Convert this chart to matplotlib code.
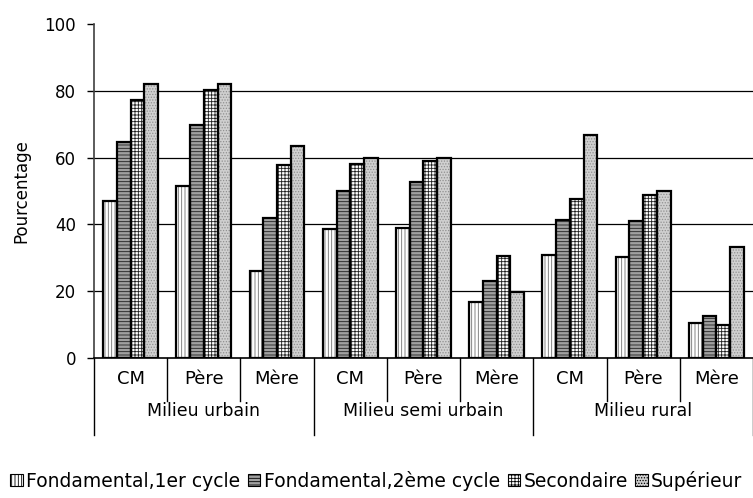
import numpy as np
import matplotlib.pyplot as plt

plt.rcParams['font.family'] = ['DejaVu Sans']
plt.rcParams['hatch.linewidth'] = 0.6

milieux = ['Milieu urbain', 'Milieu semi urbain', 'Milieu rural']
personnes = ['CM', 'Père', 'Mère']
niveaux = ['Fondamental,1er cycle', 'Fondamental,2ème cycle', 'Secondaire', 'Supérieur']

# pourcentages par niveau, dans l'ordre urbain (CM, Père, Mère), semi urbain, rural
fond1 = [47, 51.4, 26, 38.7, 38.9, 16.9, 30.7, 30.1, 10.4]
fond2 = [64.6, 69.8, 41.8, 49.9, 52.6, 23, 41.4, 40.9, 12.5]
secondaire = [77.2, 80.3, 57.7, 58.2, 59, 30.6, 47.5, 48.7, 9.9]
superieur = [82, 82, 63.6, 59.9, 60, 19.9, 66.9, 50, 33.2]

series = [fond1, fond2, secondaire, superieur]
styles = [('white', '#707070', '|||||'),
          ('#a0a0a0', '#202020', '-----'),
          ('white', '#202020', '+++++'),
          ('#d0d0d0', '#909090', '......')]

fig = plt.figure(figsize=(7.53, 4.98), dpi=100)
ax = fig.add_axes([0.1248, 0.281, 0.8752, 0.671])

n = len(fond1)
x = np.arange(n) + 0.5
w = 0.1875
handles = []
for i, (vals, (fc, hc, h)) in enumerate(zip(series, styles)):
    pos = x + (i - 1.5) * w
    ax.bar(pos, vals, w, color=fc, edgecolor=hc, hatch=h, linewidth=0, zorder=3)
    ax.bar(pos, vals, w, fill=False, edgecolor='black', linewidth=1.6, zorder=4)
    handles.append(plt.Rectangle((0, 0), 1, 1, facecolor=fc, edgecolor='black',
                                 hatch=h, linewidth=0.8))

ax.set_xlim(0, n)
ax.set_ylim(0, 100)
ax.set_yticks(range(0, 101, 20))
ax.tick_params(axis='y', direction='out', length=5, width=1, labelsize=12, pad=8)
ax.set_xticks([])
for yv in range(20, 100, 20):
    ax.axhline(yv, color='black', linewidth=0.9, zorder=1)
for s in ['top', 'right']:
    ax.spines[s].set_visible(False)
ax.spines['left'].set_color('#404040')
ax.spines['left'].set_linewidth(1.2)
ax.spines['bottom'].set_linewidth(1.2)
ax.set_ylabel('Pourcentage', fontsize=12, labelpad=10)

# axe des catégories sur deux niveaux
tr = ax.get_xaxis_transform()
for k in range(n + 1):
    bas = -0.23 if k % 3 == 0 else -0.127
    ax.plot([k, k], [0, bas], color='black', linewidth=1, transform=tr, clip_on=False)
for k in range(n):
    ax.text(k + 0.5, -0.064, personnes[k % 3], transform=tr, ha='center', va='center',
            fontsize=13)
for g, nom in enumerate(milieux):
    ax.text(3 * g + 1.5, -0.158, nom, transform=tr, ha='center', va='center', fontsize=12.5)

fig.legend(handles, niveaux, loc='lower center', bbox_to_anchor=(0.5, 0.0), ncol=4,
           frameon=False, fontsize=13.5, handlelength=0.65, handleheight=0.65,
           handletextpad=0.2, columnspacing=0.4, borderaxespad=0.0)

fig.savefig('out.png', dpi=100)
